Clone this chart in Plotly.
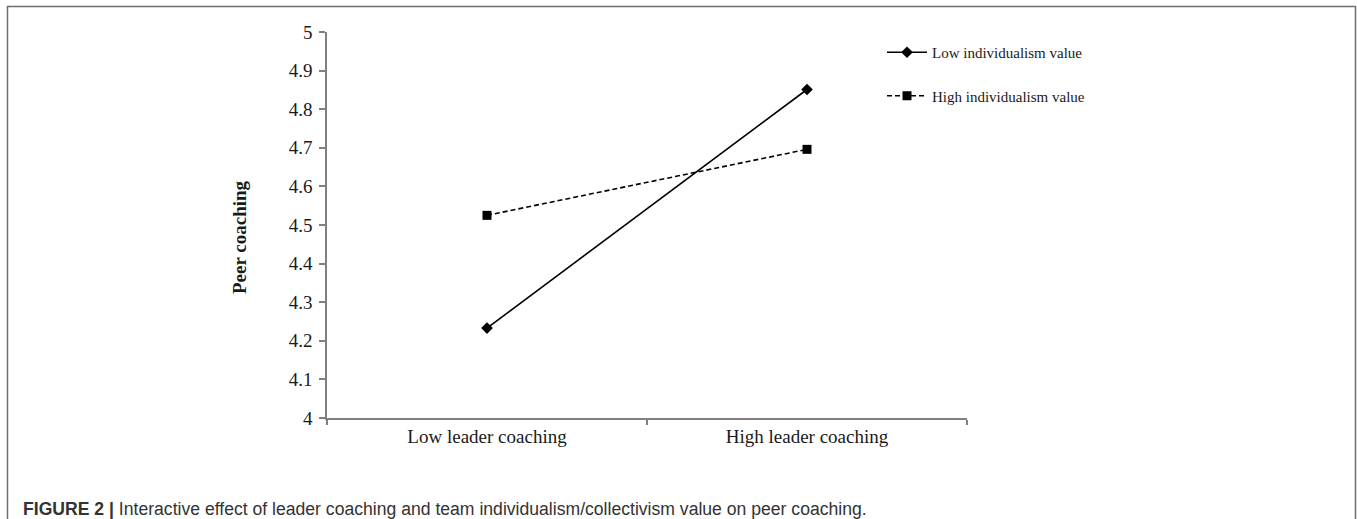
import plotly.graph_objects as go

categories = ["Low leader coaching", "High leader coaching"]
low_indiv = [4.233, 4.851]
high_indiv = [4.525, 4.696]
series_names = ["Low individualism value", "High individualism value"]
y_ticks = [4, 4.1, 4.2, 4.3, 4.4, 4.5, 4.6, 4.7, 4.8, 4.9, 5]
y_title = "Peer coaching"
caption_bold = "FIGURE 2 |"
caption_text = " Interactive effect of leader coaching and team individualism/collectivism value on peer coaching."

W, H = 1357, 519
L, R, T, B = 327, 390, 32, 101
PW, PH = W - L - R, H - T - B


def px_x(px):
    return (px - L) / PW


def px_y(py):
    return 1 - (py - T) / PH


fig = go.Figure()
fig.add_trace(go.Scatter(
    x=categories, y=low_indiv, name=series_names[0], mode="lines+markers",
    line=dict(color="black", width=1.6),
    marker=dict(symbol="diamond", size=9, color="black"),
    legendgroup="a"))
fig.add_trace(go.Scatter(
    x=categories, y=high_indiv, name=series_names[1], mode="lines+markers",
    line=dict(color="black", width=1.6, dash="5px,3px"),
    marker=dict(symbol="square", size=9, color="black"),
    legendgroup="b"))

font_serif = "Liberation Serif, Times New Roman, serif"
axis_col = "#808080"
txt_col = "#1a1a1a"

fig.update_layout(
    width=W, height=H,
    margin=dict(l=L, r=R, t=T, b=B, autoexpand=False),
    paper_bgcolor="white", plot_bgcolor="white",
    font=dict(family=font_serif, color=txt_col, size=16),
    showlegend=True,
    legend=dict(
        x=px_x(882), y=px_y(36),
        xanchor="left", yanchor="top",
        font=dict(family=font_serif, size=15, color=txt_col),
        bgcolor="rgba(0,0,0,0)", tracegroupgap=21, traceorder="grouped",
        itemwidth=40),
)
fig.update_xaxes(
    type="category", showline=True, linecolor=axis_col, linewidth=1.5,
    ticks="outside", tickson="boundaries", ticklen=5, tickcolor=axis_col, tickwidth=1.5,
    showgrid=False, zeroline=False,
    tickfont=dict(family=font_serif, size=19, color=txt_col),
    range=[-0.5, 1.5], fixedrange=True)
fig.update_yaxes(
    range=[4, 5], tickvals=y_ticks, ticktext=[f"{v:g}" for v in y_ticks],
    showline=True, linecolor=axis_col, linewidth=1.5,
    ticks="outside", ticklen=6, tickcolor=axis_col, tickwidth=1.5,
    showgrid=False, zeroline=False,
    tickfont=dict(family=font_serif, size=19, color=txt_col), ticklabelstandoff=3)

# Y-axis title
fig.add_annotation(
    text=f"<b>{y_title}</b>", textangle=-90, showarrow=False,
    xref="paper", yref="paper", x=px_x(239), y=px_y(237),
    xanchor="center", yanchor="middle",
    font=dict(family=font_serif, size=19, color=txt_col))

# Caption
fig.add_annotation(
    text=f"<b>{caption_bold}</b>{caption_text}", showarrow=False,
    xref="paper", yref="paper", x=px_x(21), y=px_y(509),
    xanchor="left", yanchor="middle",
    font=dict(family="Liberation Sans, Arial, sans-serif", size=17.6, color="#333333"))

# Outer frame (top, left, right edges)
frame_col = "#6e6e6e"
fig.add_shape(type="line", xref="paper", yref="paper",
              x0=px_x(7), x1=px_x(1355.5), y0=px_y(6.5), y1=px_y(6.5),
              line=dict(color=frame_col, width=1.5))
fig.add_shape(type="line", xref="paper", yref="paper",
              x0=px_x(7.5), x1=px_x(7.5), y0=px_y(6), y1=px_y(530),
              line=dict(color=frame_col, width=1.5))
fig.add_shape(type="line", xref="paper", yref="paper",
              x0=px_x(1355.5), x1=px_x(1355.5), y0=px_y(6), y1=px_y(530),
              line=dict(color=frame_col, width=1.5))

fig.write_html("out.html", config={"displayModeBar": False},
               post_script="document.body.style.margin='0';document.body.style.overflow='hidden';")
